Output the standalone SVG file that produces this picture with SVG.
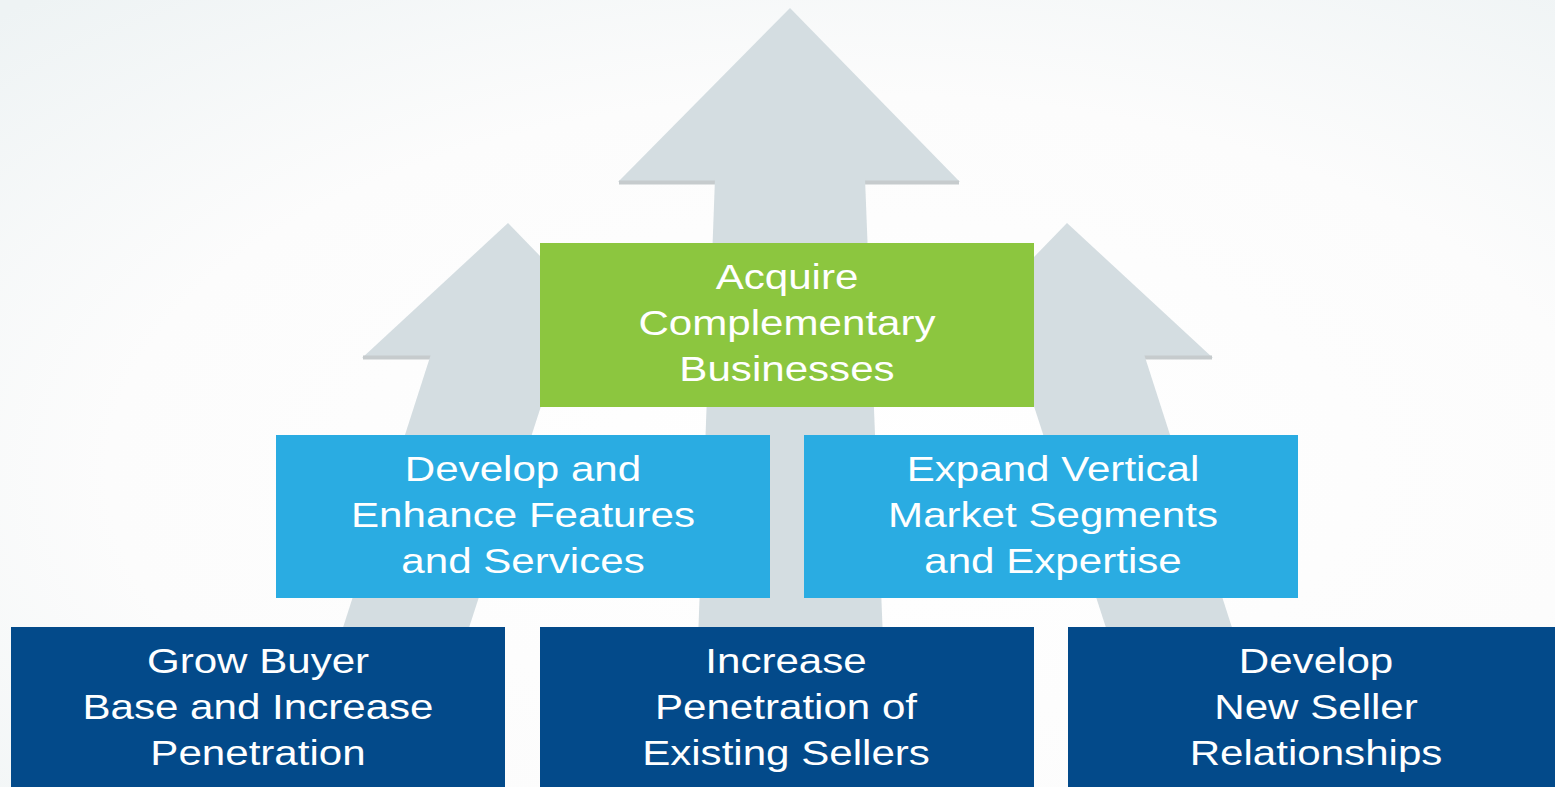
<svg xmlns="http://www.w3.org/2000/svg" width="1555" height="787" viewBox="0 0 1555 787">
<defs>
<radialGradient id="bg" cx="0.55" cy="0.6" r="0.8">
<stop offset="0" stop-color="#ffffff"/>
<stop offset="0.6" stop-color="#fcfcfc"/>
<stop offset="1" stop-color="#eef3f4"/>
</radialGradient>
<g id="sideArrow">
<polygon class="arrow" points="508,223 362,358 639,358"/>
<line class="strip" x1="363" y1="357.5" x2="638" y2="357.5"/>
<polygon class="arrow" points="431,354 558,354 465,640 339,640"/>
</g>
</defs>
<style>
.arrow{fill:#d4dde1}
.strip{stroke:#c6cbcd;stroke-width:4}
.green{fill:#8cc63f}
.blue{fill:#2aace2}
.dark{fill:#034a8a}
text{font-family:"Liberation Sans",Arial,sans-serif;font-size:36px;fill:#ffffff;text-anchor:middle}
</style>
<rect width="1555" height="787" fill="url(#bg)"/>
<g id="arrows">
<g id="arrow-center">
<polygon class="arrow" points="790,8 618,182 960,182"/>
<line class="strip" x1="619" y1="182.5" x2="959" y2="182.5"/>
<polygon class="arrow" points="715,178 865,178 883,640 698,640"/>
</g>
<g id="arrow-left"><use href="#sideArrow"/></g>
<g id="arrow-right" transform="translate(1575,0) scale(-1,1)"><use href="#sideArrow"/></g>
</g>
<g id="node-acquire">
<rect class="green" x="540" y="243" width="494" height="164"/>
<g transform="translate(787,0) scale(1.17,1)">
<text x="0" y="289">Acquire</text>
<text x="0" y="335">Complementary</text>
<text x="0" y="381">Businesses</text>
</g>
</g>
<g id="node-develop-enhance">
<rect class="blue" x="276" y="435" width="494" height="163"/>
<g transform="translate(523,0) scale(1.17,1)">
<text x="0" y="481">Develop and</text>
<text x="0" y="527">Enhance Features</text>
<text x="0" y="573">and Services</text>
</g>
</g>
<g id="node-expand">
<rect class="blue" x="804" y="435" width="494" height="163"/>
<g transform="translate(1053,0) scale(1.17,1)">
<text x="0" y="481">Expand Vertical</text>
<text x="0" y="527">Market Segments</text>
<text x="0" y="573">and Expertise</text>
</g>
</g>
<g id="node-grow">
<rect class="dark" x="11" y="627" width="494" height="160"/>
<g transform="translate(258,0) scale(1.17,1)">
<text x="0" y="673">Grow Buyer</text>
<text x="0" y="719">Base and Increase</text>
<text x="0" y="765">Penetration</text>
</g>
</g>
<g id="node-increase">
<rect class="dark" x="540" y="627" width="494" height="160"/>
<g transform="translate(786,0) scale(1.17,1)">
<text x="0" y="673">Increase</text>
<text x="0" y="719">Penetration of</text>
<text x="0" y="765">Existing Sellers</text>
</g>
</g>
<g id="node-develop-sellers">
<rect class="dark" x="1068" y="627" width="487" height="160"/>
<g transform="translate(1316,0) scale(1.17,1)">
<text x="0" y="673">Develop</text>
<text x="0" y="719">New Seller</text>
<text x="0" y="765">Relationships</text>
</g>
</g>
</svg>
